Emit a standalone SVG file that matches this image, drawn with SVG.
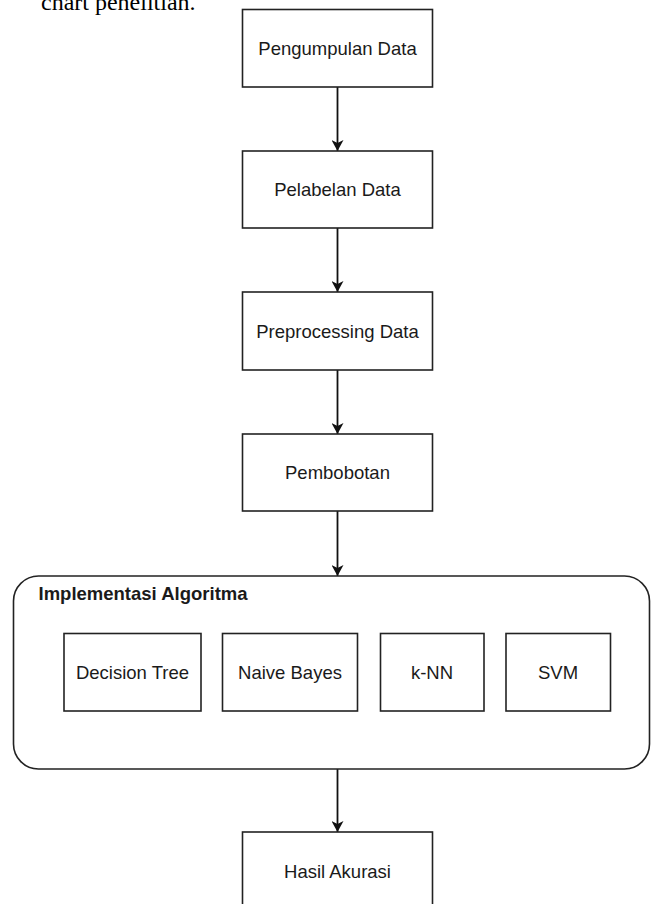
<svg xmlns="http://www.w3.org/2000/svg" width="651" height="904" viewBox="0 0 651 904">
  <style>
    .box { fill: #ffffff; stroke: #222222; stroke-width: 1.6; }
    .lbl { font-family: "Liberation Sans", Arial, sans-serif; font-size: 18.5px; fill: #1a1a1a; text-anchor: middle; }
    .title { font-family: "Liberation Sans", Arial, sans-serif; font-size: 18.5px; font-weight: bold; fill: #1a1a1a; }
    .edge { fill: none; stroke: #111111; stroke-width: 1.8; }
    .caption { font-family: "Liberation Serif", "Times New Roman", serif; font-size: 24px; fill: #000000; }
  </style>
  <defs>
    <marker id="arrow" viewBox="0 0 11 12" refX="11" refY="6" markerWidth="11" markerHeight="12" markerUnits="userSpaceOnUse" orient="auto">
      <path d="M0,0 L11,6 L0,12 L3,6 Z" fill="#111111"/>
    </marker>
  </defs>
  <rect width="651" height="904" fill="#ffffff"/>

  <text class="caption" x="41" y="9.5">chart penelitian.</text>

  <g id="edges">
    <line class="edge" x1="337.5" y1="87" x2="337.5" y2="151" marker-end="url(#arrow)"/>
    <line class="edge" x1="337.5" y1="228" x2="337.5" y2="292" marker-end="url(#arrow)"/>
    <line class="edge" x1="337.5" y1="370" x2="337.5" y2="434" marker-end="url(#arrow)"/>
    <line class="edge" x1="337.5" y1="511" x2="337.5" y2="576" marker-end="url(#arrow)"/>
    <line class="edge" x1="337.5" y1="769" x2="337.5" y2="832" marker-end="url(#arrow)"/>
  </g>

  <g id="pengumpulan-data">
    <rect class="box" x="242.5" y="9.5" width="190" height="77.5"/>
    <text class="lbl" x="337.5" y="55">Pengumpulan Data</text>
  </g>
  <g id="pelabelan-data">
    <rect class="box" x="242.5" y="151" width="190" height="77"/>
    <text class="lbl" x="337.5" y="196">Pelabelan Data</text>
  </g>
  <g id="preprocessing-data">
    <rect class="box" x="242.5" y="292" width="190" height="78"/>
    <text class="lbl" x="337.5" y="337.5">Preprocessing Data</text>
  </g>
  <g id="pembobotan">
    <rect class="box" x="242.5" y="434" width="190" height="77"/>
    <text class="lbl" x="337.5" y="479">Pembobotan</text>
  </g>

  <g id="implementasi-algoritma">
    <rect class="box" x="13.5" y="576" width="636" height="193" rx="25" ry="25"/>
    <text class="title" x="38.5" y="600">Implementasi Algoritma</text>
  </g>
  <g id="decision-tree">
    <rect class="box" x="64" y="633.5" width="137" height="77.5"/>
    <text class="lbl" x="132.5" y="679">Decision Tree</text>
  </g>
  <g id="naive-bayes">
    <rect class="box" x="222.5" y="633.5" width="135" height="77.5"/>
    <text class="lbl" x="290" y="679">Naive Bayes</text>
  </g>
  <g id="knn">
    <rect class="box" x="380.5" y="633.5" width="103.5" height="77.5"/>
    <text class="lbl" x="432" y="679">k-NN</text>
  </g>
  <g id="svm">
    <rect class="box" x="506" y="633.5" width="104.5" height="77.5"/>
    <text class="lbl" x="558" y="679">SVM</text>
  </g>

  <g id="hasil-akurasi">
    <rect class="box" x="242.5" y="832" width="190" height="78"/>
    <text class="lbl" x="337.5" y="878">Hasil Akurasi</text>
  </g>
</svg>
